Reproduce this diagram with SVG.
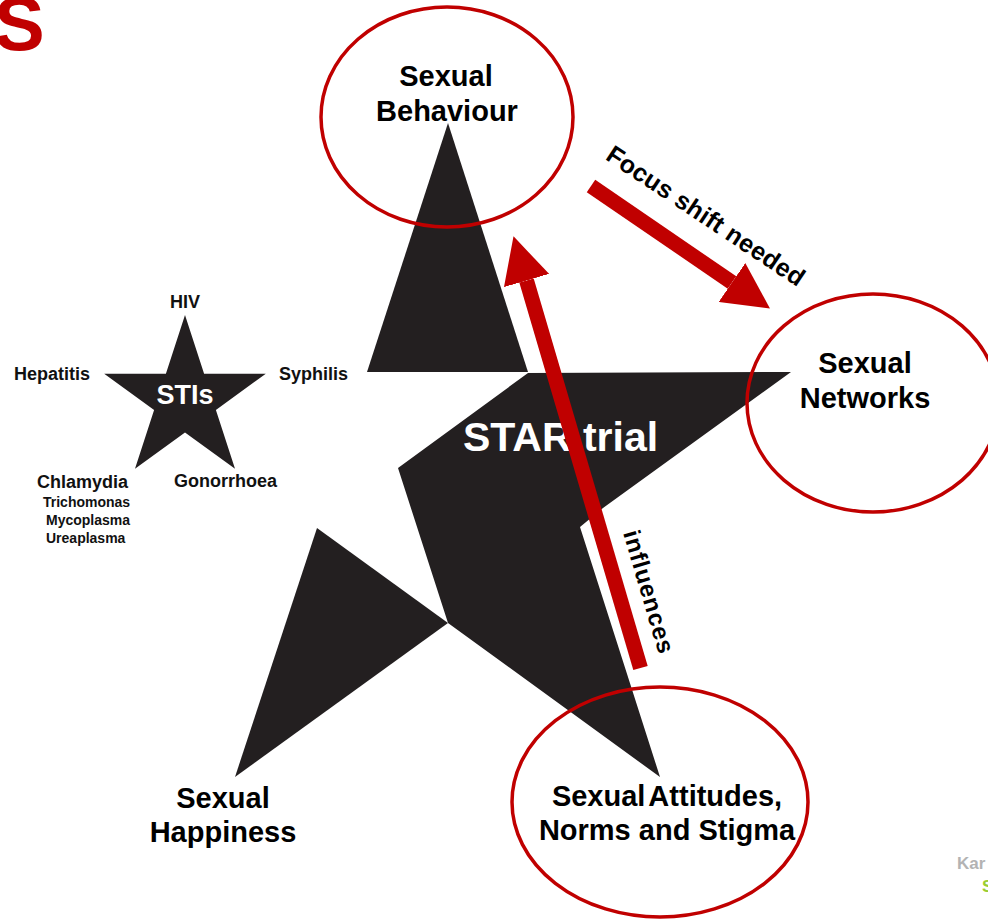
<svg xmlns="http://www.w3.org/2000/svg" width="988" height="919" viewBox="0 0 988 919">
<style>
text{font-family:"Liberation Sans",Arial,sans-serif;font-weight:bold;}
.lbl{font-size:29px;fill:#000;text-anchor:middle;}
.sm{font-size:18px;fill:#111;}
.xs{font-size:14px;fill:#111;}
.star{fill:#231f20;}
.ring{fill:none;stroke:#c00000;stroke-width:3.5;}
.shaft{stroke:#c00000;stroke-width:15;fill:none;}
</style>
<defs>
<marker id="head" viewBox="0 0 46 47" markerWidth="46" markerHeight="47" refX="0" refY="23.5" orient="auto" markerUnits="userSpaceOnUse">
<path d="M0,0 L46,23.5 L0,47 Z" fill="#c00000"/>
</marker>
</defs>
<rect width="988" height="919" fill="#fff"/>
<text x="-6" y="50" font-size="76" fill="#c00000">S</text>

<g id="sti-star">
<polygon class="star" points="185,315 204.1,373.7 265.8,373.7 215.9,410 235,468.8 185,432.5 135,468.8 154.1,410 104.2,373.7 165.9,373.7"/>
<text x="185" y="404" font-size="27" fill="#fff" text-anchor="middle">STIs</text>
<text class="sm" x="185" y="308" text-anchor="middle">HIV</text>
<text class="sm" x="14" y="380">Hepatitis</text>
<text class="sm" x="279" y="380">Syphilis</text>
<text class="sm" x="37" y="488" font-size="19">Chlamydia</text>
<text class="sm" x="174" y="487">Gonorrhoea</text>
<text class="xs" x="43" y="507">Trichomonas</text>
<text class="xs" x="46" y="525">Mycoplasma</text>
<text class="xs" x="46" y="543">Ureaplasma</text>
</g>

<g id="star-trial">
<polygon class="star" points="448,123 528,372 367,372"/>
<polygon class="star" points="528,373 791,372 603,508 580,527 660,777 448,623 398,468"/>
<polygon class="star" points="317,528 448,623 235,777"/>
<text x="463" y="451" font-size="41" fill="#fff">STAR trial</text>
</g>

<g id="sexual-behaviour">
<ellipse class="ring" cx="447" cy="117" rx="126" ry="110"/>
<text class="lbl" x="446" y="86">Sexual</text>
<text class="lbl" x="447" y="121">Behaviour</text>
</g>

<g id="sexual-networks">
<ellipse class="ring" cx="873" cy="403" rx="126" ry="109"/>
<text class="lbl" x="865" y="373">Sexual</text>
<text class="lbl" x="865" y="408">Networks</text>
</g>

<g id="sexual-happiness">
<text class="lbl" x="223" y="808">Sexual</text>
<text class="lbl" x="223" y="842">Happiness</text>
</g>

<g id="sexual-attitudes">
<ellipse class="ring" cx="660" cy="802" rx="148" ry="115"/>
<text class="lbl" x="667" y="806" word-spacing="-4">Sexual Attitudes,</text>
<text class="lbl" x="667" y="840">Norms and Stigma</text>
</g>

<g id="connectors">
<line class="shaft" x1="591" y1="186" x2="732" y2="282.5" marker-end="url(#head)"/>
<text transform="translate(701,223) rotate(33.6)" font-size="25" text-anchor="middle" textLength="232" lengthAdjust="spacing">Focus shift needed</text>
<line class="shaft" x1="640.5" y1="668" x2="526.5" y2="280.5" marker-end="url(#head)"/>
<text transform="translate(641,594) rotate(73.6)" font-size="24" text-anchor="middle" textLength="127" lengthAdjust="spacing">influences</text>
</g>

<text x="957" y="869" font-size="17" fill="#b3b3b3">Kar</text>
<text x="982" y="892" font-size="17" fill="#9acd32">S</text>
</svg>
